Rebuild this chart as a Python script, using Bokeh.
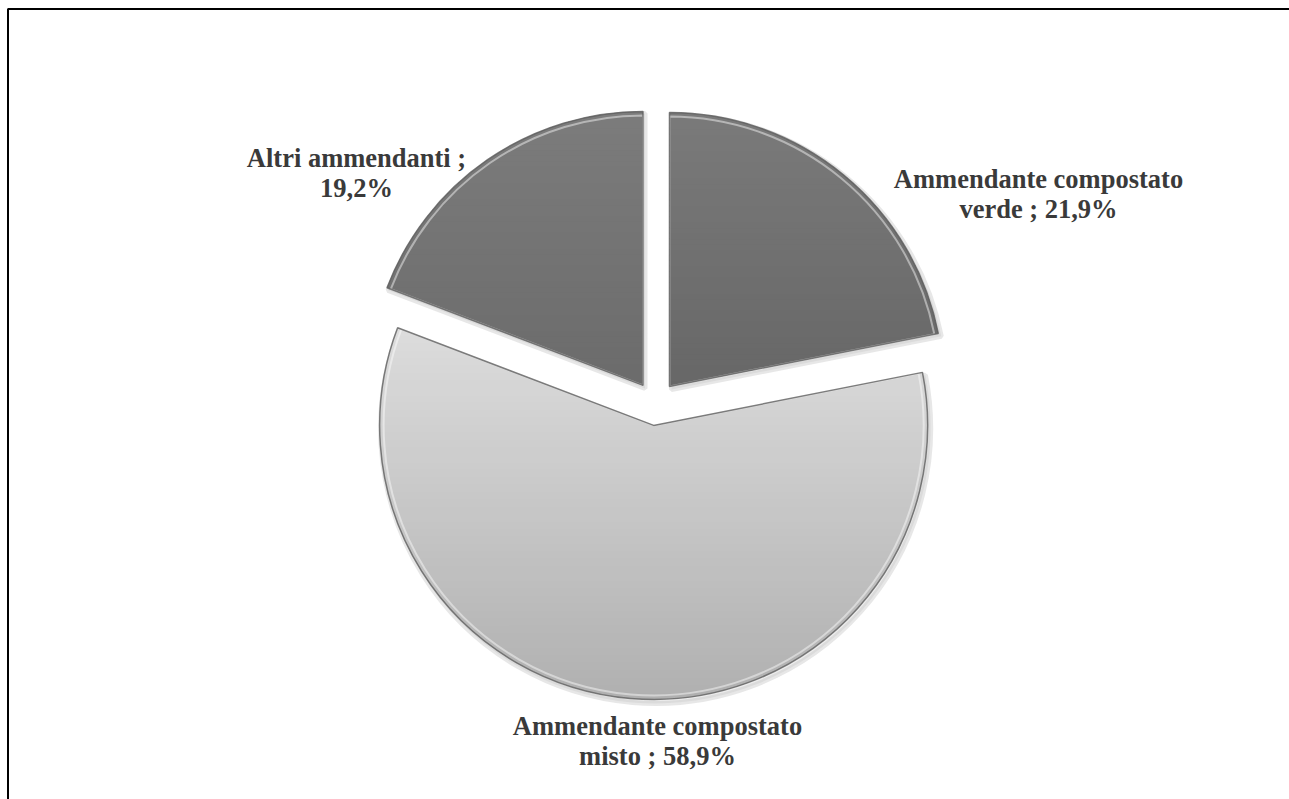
import math
from bokeh.plotting import figure
from bokeh.models import Range1d, BoxAnnotation
from bokeh.core.properties import value
from bokeh.embed import file_html
from bokeh.resources import INLINE

# ---- data (clockwise from 12 o'clock) ----
categories = ["Ammendante compostato verde", "Ammendante compostato misto", "Altri ammendanti"]
percent = [21.9, 58.9, 19.2]
label_wrap = [2, 2, 3]  # words on first label line

# ---- style ----
W, H = 1289, 799
top_col = ["#7a7a7a", "#dcdcdc", "#7c7c7c"]
bot_col = ["#676767", "#b0b0b0", "#6b6b6b"]
label_x = [1038, 657, 356]
label_y1 = [621, 74, 642]             # baseline of first line
line_gap = 30
CX, CY, R, EXPLODE = 655, 396, 274, 22

p = figure(width=W, height=H, x_range=Range1d(0, W), y_range=Range1d(0, H),
           output_backend="svg", toolbar_location=None, min_border=0,
           x_axis_type=None, y_axis_type=None)
p.grid.visible = False
p.outline_line_color = None
p.background_fill_color = "white"
p.border_fill_color = "white"


def hexmix(c1, c2, t):
    a = [int(c1[i:i + 2], 16) for i in (1, 3, 5)]
    b = [int(c2[i:i + 2], 16) for i in (1, 3, 5)]
    return "#%02x%02x%02x" % tuple(round(a[k] + (b[k] - a[k]) * t) for k in range(3))


def clip(poly, y0, keep_above):
    out = []
    n = len(poly)
    for i in range(n):
        a, b = poly[i], poly[(i + 1) % n]
        ina = (a[1] >= y0) if keep_above else (a[1] <= y0)
        inb = (b[1] >= y0) if keep_above else (b[1] <= y0)
        if ina:
            out.append(a)
        if ina != inb:
            t = (y0 - a[1]) / (b[1] - a[1])
            out.append((a[0] + t * (b[0] - a[0]), y0))
    return out


total = sum(percent)
cum = 0.0
for i, v in enumerate(percent):
    a0 = math.pi / 2 - 2 * math.pi * cum / total
    a1 = math.pi / 2 - 2 * math.pi * (cum + v) / total
    cum += v
    mid = (a0 + a1) / 2
    cx = CX + EXPLODE * math.cos(mid)
    cy = CY + EXPLODE * math.sin(mid)
    nseg = max(8, int(abs(a0 - a1) * 60))
    poly = [(cx, cy)] + [(cx + R * math.cos(a0 + (a1 - a0) * k / nseg),
                          cy + R * math.sin(a0 + (a1 - a0) * k / nseg)) for k in range(nseg + 1)]
    # soft shadow
    p.wedge(x=cx + 2, y=cy - 3, radius=R + 1, start_angle=a0, end_angle=a1, direction="clock",
            fill_color="#9a9a9a", fill_alpha=0.18, line_color="#bbbbbb", line_alpha=0.35, line_width=5)
    ymin = min(q[1] for q in poly)
    ymax = max(q[1] for q in poly)
    nstrip = 50
    xs, ys, cols = [], [], []
    for s in range(nstrip):
        y_lo = ymin + (ymax - ymin) * s / nstrip - 0.6
        y_hi = ymin + (ymax - ymin) * (s + 1) / nstrip + 0.6
        part = clip(clip(poly, y_lo, True), y_hi, False)
        if len(part) < 3:
            continue
        xs.append([q[0] for q in part])
        ys.append([q[1] for q in part])
        t = 1 - ((y_lo + y_hi) / 2 - ymin) / (ymax - ymin)
        cols.append(hexmix(top_col[i], bot_col[i], t))
    p.patches(xs=xs, ys=ys, fill_color=cols, line_color=None)
    # bevel highlight + outline
    p.wedge(x=cx, y=cy, radius=R - 4, start_angle=a0, end_angle=a1, direction="clock",
            fill_color=None, line_color="white", line_alpha=0.45, line_width=2)
    p.wedge(x=cx, y=cy, radius=R, start_angle=a0, end_angle=a1, direction="clock",
            fill_color=None, line_color="#5e5e5e", line_alpha=0.8, line_width=1.5)

    # labels
    pct = ("%.1f%%" % v).replace(".", ",")
    words = (categories[i] + " ; " + pct).split(" ")
    l1 = " ".join(words[:label_wrap[i]])
    l2 = " ".join(words[label_wrap[i]:])
    p.text(x=[label_x[i], label_x[i]], y=[label_y1[i], label_y1[i] - line_gap], text=[l1, l2],
           text_font=value("Liberation Serif"), text_font_style="bold", text_font_size="26.5px",
           text_color="#3a3a3a", text_align="center", text_baseline="alphabetic")

# chart frame (only its left and top edges fall inside the window)
p.add_layout(BoxAnnotation(left=7.5, top=H - 8.5, right=W + 20, bottom=-20,
                           fill_color=None, line_color="black", line_width=2, line_alpha=1))

open("out.html", "w").write(file_html(p, INLINE))
